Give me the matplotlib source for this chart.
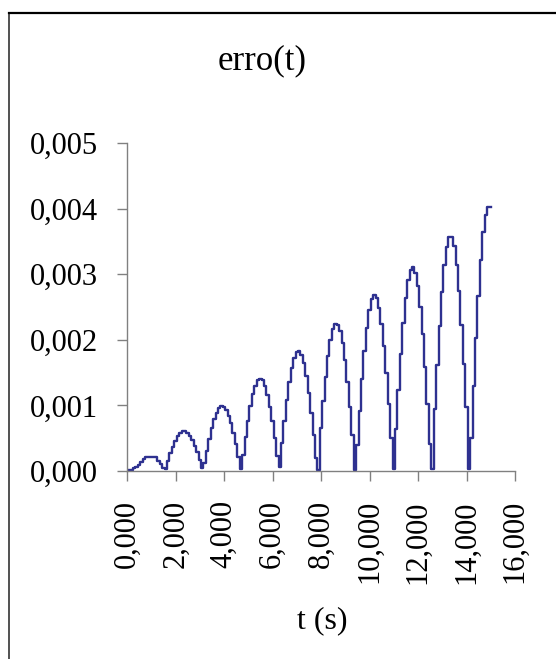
"""plot.py - erro(t): stepped error curve, Excel-like look."""

import matplotlib
matplotlib.use("Agg")
import matplotlib.pyplot as plt
from matplotlib.lines import Line2D
from matplotlib.ticker import FuncFormatter, MultipleLocator

# sample times (s), 0.1 s step
t = [round(0.1 * i, 1) for i in range(151)]

# erro(t)
erro = [
    0.000000, 0.000010, 0.000020, 0.000040, 0.000060, 0.000090, 0.000140, 0.000180,
    0.000210, 0.000220, 0.000220, 0.000220, 0.000210, 0.000160, 0.000110, 0.000050,
    # 1.6 - 3.1
    0.000035, 0.000156, 0.000270, 0.000373, 0.000462, 0.000532, 0.000580, 0.000606,
    0.000608, 0.000585, 0.000539, 0.000471, 0.000385, 0.000283, 0.000170, 0.000051,
    # 3.2 - 4.7
    0.000115, 0.000308, 0.000489, 0.000650, 0.000786, 0.000890, 0.000958, 0.000989,
    0.000979, 0.000931, 0.000846, 0.000727, 0.000579, 0.000408, 0.000221, 0.000025,
    # 4.8 - 6.2
    0.000246, 0.000517, 0.000767, 0.000987, 0.001167, 0.001301, 0.001383, 0.001410,
    0.001381, 0.001296, 0.001160, 0.000978, 0.000757, 0.000505, 0.000233,
    # 6.3 - 7.8
    0.000061, 0.000424, 0.000769, 0.001084, 0.001355, 0.001572, 0.001727, 0.001813,
    0.001826, 0.001767, 0.001639, 0.001444, 0.001190, 0.000890, 0.000555, 0.000197,
    # 7.9 - 9.4
    0.000020, 0.000648, 0.001063, 0.001436, 0.001751, 0.001997, 0.002163, 0.002243,
    0.002233, 0.002135, 0.001952, 0.001690, 0.001362, 0.000978, 0.000556, 0.000020,
    # 9.5 - 10.9
    0.000402, 0.000920, 0.001402, 0.001828, 0.002181, 0.002447, 0.002615, 0.002679,
    0.002637, 0.002489, 0.002242, 0.001907, 0.001494, 0.001022, 0.000509,
    # 11.0 - 12.5
    0.000028, 0.000645, 0.001237, 0.001779, 0.002250, 0.002632, 0.002908, 0.003069,
    0.003108, 0.003023, 0.002816, 0.002497, 0.002081, 0.001580, 0.001016, 0.000412,
    # 12.6 - 14.1
    0.000030, 0.000945, 0.001613, 0.002216, 0.002730, 0.003135, 0.003416, 0.003560,
    0.003563, 0.003424, 0.003147, 0.002744, 0.002232, 0.001631, 0.000970, 0.000030,
    # 14.2 - 15.0
    0.000505, 0.001290, 0.002022, 0.002674, 0.003220, 0.003637, 0.003909, 0.004026,
    0.004020,
]

title = "erro(t)"
xlabel = "t (s)"

plt.rcParams["font.family"] = ["Liberation Serif", "DejaVu Serif"]

W, H = 556, 659
fig = plt.figure(figsize=(W / 100, H / 100), dpi=100)
ax = fig.add_axes([127 / W, 1 - 471 / H, (515 - 127) / W, (471 - 143) / H])

ax.plot(t, erro, drawstyle="steps-mid", color="#2e3190", lw=1.7)

ax.set_xlim(0, 16)
ax.set_ylim(0, 0.005)
ax.xaxis.set_major_locator(MultipleLocator(2))
ax.yaxis.set_major_locator(MultipleLocator(0.001))
comma = FuncFormatter(lambda v, _: f"{v:.3f}".replace(".", ","))
ax.xaxis.set_major_formatter(comma)
ax.yaxis.set_major_formatter(comma)

for side in ("top", "right"):
    ax.spines[side].set_visible(False)
for side in ("left", "bottom"):
    ax.spines[side].set_color("#808080")
    ax.spines[side].set_linewidth(1)

ax.tick_params(axis="both", direction="out", length=7, width=1,
               color="#808080", labelsize=22)
ax.tick_params(axis="y", pad=14)
ax.tick_params(axis="x", pad=14, labelrotation=90)

fig.text(262 / W, 1 - 61 / H, title, ha="center", va="center", fontsize=25)
fig.text(322 / W, 1 - 621 / H, xlabel, ha="center", va="center", fontsize=23)

# chart area border (cut by the image on the right and bottom)
fig.add_artist(Line2D([9 / W, 9 / W], [0, 1 - 13 / H], color="#333333", lw=1.2,
                      transform=fig.transFigure))
fig.add_artist(Line2D([9 / W, 1], [1 - 13 / H, 1 - 13 / H], color="black", lw=1.6,
                      transform=fig.transFigure))

fig.savefig("out.png", dpi=100)
